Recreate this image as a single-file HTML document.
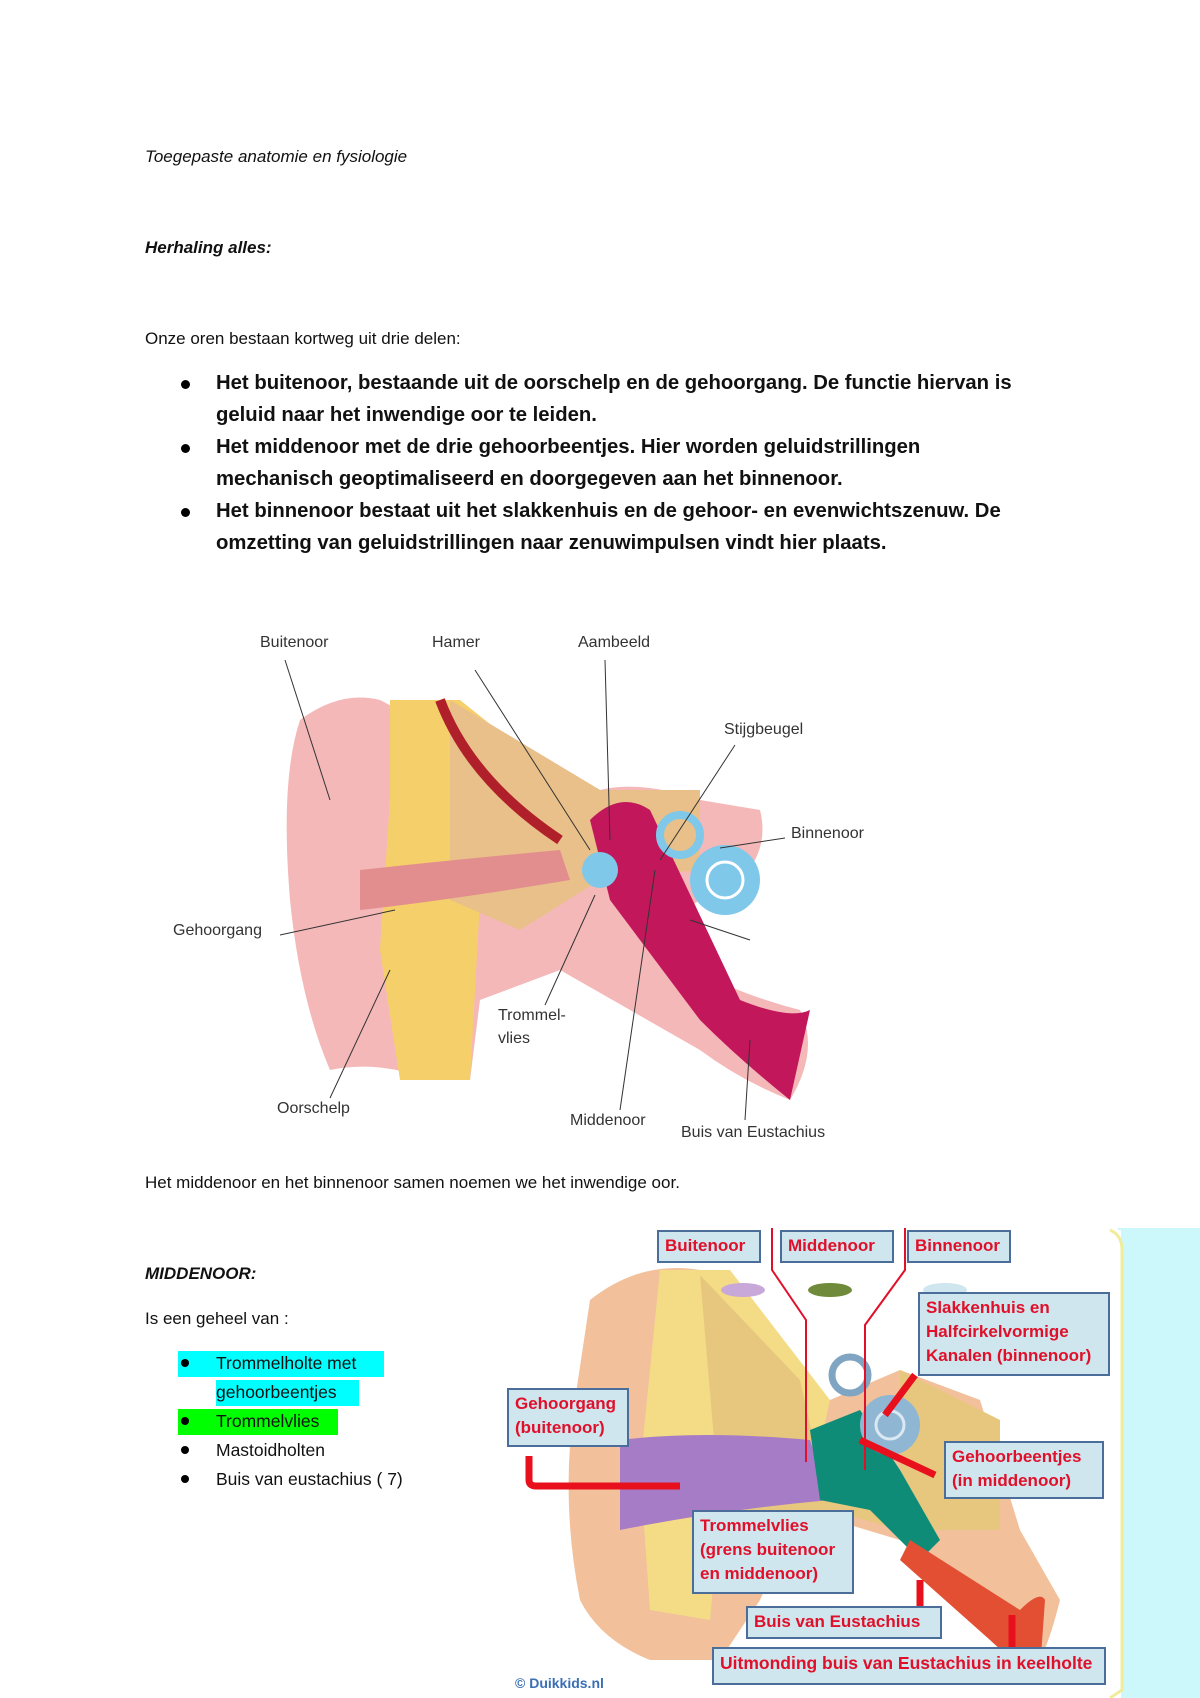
<!DOCTYPE html>
<html><head><meta charset="utf-8"><style>
body{margin:0;background:#fff;}
.page{position:relative;width:1200px;height:1698px;overflow:hidden;font-family:"Liberation Sans",sans-serif;color:#111;}
.t{position:absolute;white-space:nowrap;}
.b{font-weight:bold;font-size:20.3px;}
.dot{position:absolute;width:9px;height:9px;border-radius:50%;background:#000;}
.lbl{position:absolute;font-size:16px;color:#333;white-space:nowrap;}
.box{position:absolute;background:#cfe6ee;border:2px solid #4a6d9a;color:#e0102a;font-weight:bold;font-size:17px;line-height:24px;padding:2px 6px;box-sizing:border-box;}
</style></head><body><div class="page">
<div class="t" style="left:145px;top:147px;font-size:17px;font-style:italic;">Toegepaste anatomie en fysiologie</div>
<div class="t" style="left:145px;top:238px;font-size:17px;font-style:italic;font-weight:bold;">Herhaling alles:</div>
<div class="t" style="left:145px;top:329px;font-size:17px;">Onze oren bestaan kortweg uit drie delen:</div>
<div class="dot" style="left:181px;top:380px"></div>
<div class="t b" style="left:216px;top:372px">Het buitenoor, bestaande uit de oorschelp en de gehoorgang. De functie hiervan is</div>
<div class="t b" style="left:216px;top:404px">geluid naar het inwendige oor te leiden.</div>
<div class="dot" style="left:181px;top:444px"></div>
<div class="t b" style="left:216px;top:436px">Het middenoor met de drie gehoorbeentjes. Hier worden geluidstrillingen</div>
<div class="t b" style="left:216px;top:468px">mechanisch geoptimaliseerd en doorgegeven aan het binnenoor.</div>
<div class="dot" style="left:181px;top:508px"></div>
<div class="t b" style="left:216px;top:500px">Het binnenoor bestaat uit het slakkenhuis en de gehoor- en evenwichtszenuw. De</div>
<div class="t b" style="left:216px;top:532px">omzetting van geluidstrillingen naar zenuwimpulsen vindt hier plaats.</div>

<svg style="position:absolute;left:0;top:0" width="1200" height="1698">
<path d="M300 720 Q340 690 380 700 Q420 720 420 740 L450 700 L600 790 Q640 780 700 800 L760 810 Q770 850 740 880 L700 900 L640 940 Q720 990 800 1010 Q820 1050 790 1100 Q740 1080 700 1050 L560 970 L480 1000 L470 1080 L430 1080 Q380 1060 330 1070 Q300 1000 290 900 Q280 780 300 720Z" fill="#f5b8b8"/>
<path d="M390 700 L460 700 L560 780 L600 790 L560 880 L480 900 L470 1080 L400 1080 L380 950 L390 800Z" fill="#f5d06a"/>
<path d="M450 700 L600 790 L700 790 L700 870 L600 880 L520 930 L450 900Z" fill="#e9c089"/>
<path d="M360 870 Q450 860 560 850 L570 880 Q450 900 360 910Z" fill="#e28e8e"/>
<path d="M590 820 Q620 790 650 810 L740 1000 Q790 1020 810 1010 L790 1100 Q740 1060 700 1020 L610 900Z" fill="#c2185b"/>
<path d="M440 700 Q470 780 560 840" stroke="#b0202a" stroke-width="10" fill="none"/>
<circle cx="725" cy="880" r="35" fill="#7fc8ea"/><circle cx="725" cy="880" r="18" fill="none" stroke="#fff" stroke-width="3"/>
<circle cx="680" cy="835" r="20" fill="none" stroke="#7fc8ea" stroke-width="8"/>
<circle cx="600" cy="870" r="18" fill="#7fc8ea"/>
<g stroke="#333" stroke-width="1" fill="none">
<line x1="285" y1="660" x2="330" y2="800"/><line x1="475" y1="670" x2="590" y2="850"/>
<line x1="605" y1="660" x2="610" y2="840"/><line x1="735" y1="745" x2="660" y2="860"/>
<line x1="785" y1="838" x2="720" y2="848"/><line x1="280" y1="935" x2="395" y2="910"/>
<line x1="330" y1="1098" x2="390" y2="970"/><line x1="545" y1="1005" x2="595" y2="895"/>
<line x1="620" y1="1110" x2="655" y2="870"/><line x1="745" y1="1120" x2="750" y2="1040"/>
<line x1="690" y1="920" x2="750" y2="940"/>
</g>
<rect x="1118" y="1228" width="82" height="470" fill="#ccf8fb"/>
<rect x="505" y="1230" width="616" height="468" fill="#fff"/>
<path d="M1110 1230 Q1122 1235 1122 1250 L1122 1690 L1110 1698" stroke="#f0ec9a" stroke-width="3" fill="none"/>
<path d="M590 1300 Q640 1260 700 1270 L700 1300 L760 1330 L830 1400 L900 1370 L980 1400 L1020 1530 L1060 1600 Q1050 1640 1040 1660 L1000 1630 L900 1540 L800 1510 L760 1600 L720 1660 L650 1660 Q600 1640 580 1600 Q560 1500 575 1400Z" fill="#f2c09a"/>
<path d="M660 1270 L730 1270 L830 1400 L810 1490 L720 1510 L710 1620 L650 1610 L640 1470Z" fill="#f4dc86"/>
<path d="M700 1275 L800 1380 L820 1470 L900 1480 L900 1370 L1000 1420 L1000 1530 L900 1530 L830 1510 L720 1510Z" fill="#e7c77e"/>
<path d="M620 1440 Q700 1430 810 1440 L830 1500 Q720 1510 620 1530Z" fill="#a77cc6"/>
<path d="M810 1430 L860 1410 L900 1470 L940 1540 L920 1560 L870 1510 L820 1500Z" fill="#0e8c78"/>
<path d="M910 1540 L1020 1610 Q1040 1590 1045 1600 L1040 1670 Q1010 1660 990 1640 L900 1560Z" fill="#e34f33"/>
<circle cx="890" cy="1425" r="30" fill="#8fb6d3"/><circle cx="890" cy="1425" r="14" fill="none" stroke="#d9e8f2" stroke-width="3"/>
<circle cx="850" cy="1375" r="18" fill="none" stroke="#7fa5c2" stroke-width="7"/>
<ellipse cx="743" cy="1290" rx="22" ry="7" fill="#c8a8d8"/><ellipse cx="830" cy="1290" rx="22" ry="7" fill="#6f8a3a"/><ellipse cx="945" cy="1290" rx="22" ry="7" fill="#cfe6ee"/>
<g stroke="#e0102a" stroke-width="2" fill="none"><path d="M772 1228 L772 1270 L806 1320 L806 1462"/><path d="M905 1228 L905 1270 L865 1325 L865 1470"/></g>
<g stroke="#e8101c" stroke-width="7" fill="none">
<path d="M529 1456 L529 1480 Q529 1486 536 1486 L680 1486"/><line x1="830" y1="1515" x2="830" y2="1570"/>
<line x1="920" y1="1580" x2="920" y2="1620"/><line x1="1012" y1="1615" x2="1012" y2="1658"/>
<line x1="915" y1="1375" x2="885" y2="1415"/><line x1="935" y1="1475" x2="860" y2="1440"/>
</g>
<text x="515" y="1688" font-family="Liberation Sans" font-size="14" font-weight="bold" fill="#3a6fb5">© Duikkids.nl</text>
</svg>
<div class="lbl" style="left:260px;top:634px">Buitenoor</div>
<div class="lbl" style="left:432px;top:634px">Hamer</div>
<div class="lbl" style="left:578px;top:634px">Aambeeld</div>
<div class="lbl" style="left:724px;top:721px">Stijgbeugel</div>
<div class="lbl" style="left:791px;top:825px">Binnenoor</div>
<div class="lbl" style="left:173px;top:922px">Gehoorgang</div>
<div class="lbl" style="left:498px;top:1007px">Trommel-</div>
<div class="lbl" style="left:498px;top:1030px">vlies</div>
<div class="lbl" style="left:277px;top:1100px">Oorschelp</div>
<div class="lbl" style="left:570px;top:1112px">Middenoor</div>
<div class="lbl" style="left:681px;top:1124px">Buis van Eustachius</div>

<div class="t" style="left:145px;top:1173px;font-size:17px;">Het middenoor en het binnenoor samen noemen we het inwendige oor.</div>
<div class="t" style="left:145px;top:1264px;font-size:17px;font-style:italic;font-weight:bold;">MIDDENOOR:</div>
<div class="t" style="left:145px;top:1309px;font-size:17px;">Is een geheel van :</div>
<div style="position:absolute;left:178px;top:1351px;width:206px;height:26px;background:#00ffff"></div>
<div style="position:absolute;left:216px;top:1380px;width:143px;height:26px;background:#00ffff"></div>
<div style="position:absolute;left:178px;top:1409px;width:160px;height:26px;background:#00ff00"></div>
<div class="dot" style="left:181px;top:1359px;width:8px;height:8px"></div>
<div class="t" style="left:216px;top:1353px;font-size:17.5px">Trommelholte met</div>
<div class="t" style="left:216px;top:1382px;font-size:17.5px">gehoorbeentjes</div>
<div class="dot" style="left:181px;top:1417px;width:8px;height:8px"></div>
<div class="t" style="left:216px;top:1411px;font-size:17.5px">Trommelvlies</div>
<div class="dot" style="left:181px;top:1446px;width:8px;height:8px"></div>
<div class="t" style="left:216px;top:1440px;font-size:17.5px">Mastoidholten</div>
<div class="dot" style="left:181px;top:1475px;width:8px;height:8px"></div>
<div class="t" style="left:216px;top:1469px;font-size:17.5px">Buis van eustachius ( 7)</div>

<div class="box" style="left:657px;top:1230px;width:104px;height:33px">Buitenoor</div>
<div class="box" style="left:780px;top:1230px;width:114px;height:33px">Middenoor</div>
<div class="box" style="left:907px;top:1230px;width:104px;height:33px">Binnenoor</div>
<div class="box" style="left:918px;top:1292px;width:192px;height:84px">Slakkenhuis en<br>Halfcirkelvormige<br>Kanalen (binnenoor)</div>
<div class="box" style="left:507px;top:1388px;width:122px;height:59px">Gehoorgang<br>(buitenoor)</div>
<div class="box" style="left:944px;top:1441px;width:160px;height:58px">Gehoorbeentjes<br>(in middenoor)</div>
<div class="box" style="left:692px;top:1510px;width:162px;height:84px">Trommelvlies<br>(grens buitenoor<br>en middenoor)</div>
<div class="box" style="left:746px;top:1606px;width:196px;height:33px">Buis van Eustachius</div>
<div class="box" style="left:712px;top:1647px;width:394px;height:38px;font-size:17.5px">Uitmonding buis van Eustachius in keelholte</div>
</div></body></html>
